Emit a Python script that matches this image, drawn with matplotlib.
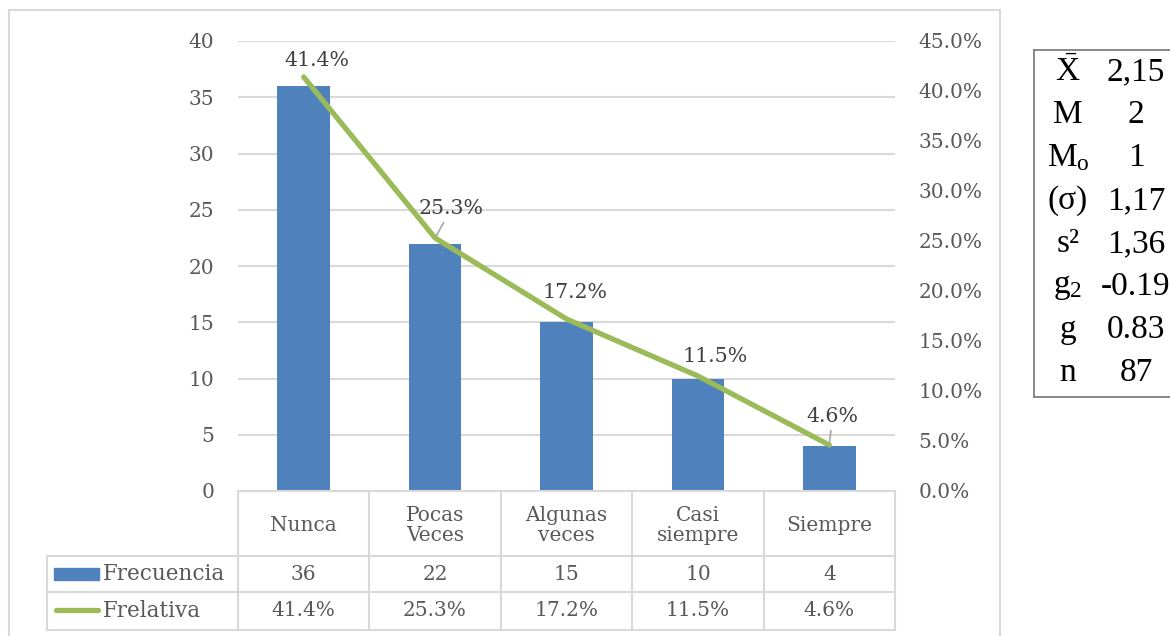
import matplotlib
matplotlib.use("Agg")
import matplotlib.pyplot as plt
from matplotlib.lines import Line2D

# datos de la tabla
categorias = ["Nunca", "Pocas\nVeces", "Algunas\nveces", "Casi\nsiempre", "Siempre"]
frecuencia = [36, 22, 15, 10, 4]
frelativa = [0.414, 0.253, 0.172, 0.115, 0.046]

# estadisticos del recuadro derecho
stat_nombres = [r"$\bar{\mathrm{X}}$", "M", r"M$_{\mathrm{o}}$", "(σ)", "s²", r"g$_{2}$", "g", "n"]
stat_valores = ["2,15", "2", "1", "1,17", "1,36", "-0.19", "0.83", "87"]

# posicion de las etiquetas de porcentaje (desplazamiento en pixeles) y lineas guia
offsets = [(13, 17), (16, 29), (8, 27), (17, 19), (3, 28)]
guias = [False, True, False, False, True]

W, H = 1170, 636
AZUL = "#4f81bd"
VERDE = "#9bbb59"
GRIS = "#595959"
LINEA = "#d9d9d9"

plt.rcParams["font.family"] = ["DejaVu Serif"]
plt.rcParams["mathtext.fontset"] = "custom"
plt.rcParams["mathtext.rm"] = "Liberation Serif"
plt.rcParams["mathtext.it"] = "Liberation Serif:italic"


def fx(x):
    return x / W


def fy(y):
    return 1 - y / H


def hline(fig, x0, x1, y, color=LINEA, lw=1.5):
    fig.add_artist(Line2D([fx(x0), fx(x1)], [fy(y), fy(y)], color=color, lw=lw,
                          transform=fig.transFigure))


def vline(fig, x, y0, y1, color=LINEA, lw=1.5):
    fig.add_artist(Line2D([fx(x), fx(x)], [fy(y0), fy(y1)], color=color, lw=lw,
                          transform=fig.transFigure))


fig = plt.figure(figsize=(W / 100, H / 100), dpi=100)

# area del grafico
left, right, top, bottom = 238, 895, 41, 491
ax = fig.add_axes([fx(left), fy(bottom), (right - left) / W, (bottom - top) / H])
x = list(range(len(categorias)))
ax.bar(x, frecuencia, width=0.4, color=AZUL, zorder=2)
ax.set_xlim(-0.5, len(categorias) - 0.5)
ax.set_ylim(0, 40)
ax.set_yticks(range(0, 41, 5))
ax.set_xticks([])
ax.yaxis.grid(True, color=LINEA, lw=1.5, zorder=0)
ax.set_axisbelow(True)
for s in ax.spines.values():
    s.set_visible(False)
ax.tick_params(axis="y", length=0, pad=17, labelsize=14.5, labelcolor=GRIS)

ax2 = ax.twinx()
ax2.plot(x, frelativa, color=VERDE, lw=3.8, solid_capstyle="round", zorder=3)
ax2.set_ylim(0, 0.45)
ax2.set_yticks([i * 0.05 for i in range(10)])
ax2.set_yticklabels(["{:.1f}%".format(v * 100) for v in ax2.get_yticks()])
for s in ax2.spines.values():
    s.set_visible(False)
ax2.tick_params(axis="y", length=0, pad=17, labelsize=14.5, labelcolor=GRIS)

for i, v in enumerate(frelativa):
    dx, dy = offsets[i]
    props = None
    if guias[i]:
        props = dict(arrowstyle="-", color="#a6a6a6", lw=1.2, shrinkA=1, shrinkB=2)
    ax2.annotate("{:.1f}%".format(v * 100), xy=(i, v), xytext=(dx * 0.72, dy * 0.72),
                 textcoords="offset points", ha="center", va="center",
                 fontsize=14.8, color="#404040", arrowprops=props)

# tabla de datos debajo del grafico
cols = [left + (right - left) * k / len(categorias) for k in range(len(categorias) + 1)]
rows = [491, 556, 592, 630]
leg_left = 47
hline(fig, left, right, rows[0])
for y in rows[1:]:
    hline(fig, leg_left, right, y)
for c in cols:
    vline(fig, c, rows[0], rows[-1])
vline(fig, leg_left, rows[1], rows[-1])

for i, cat in enumerate(categorias):
    cx = (cols[i] + cols[i + 1]) / 2
    fig.text(fx(cx), fy((rows[0] + rows[1]) / 2 + 2), cat, ha="center", va="center",
             fontsize=14.5, color=GRIS, linespacing=1.1)
    fig.text(fx(cx), fy((rows[1] + rows[2]) / 2), str(frecuencia[i]), ha="center",
             va="center", fontsize=14.5, color=GRIS)
    fig.text(fx(cx), fy((rows[2] + rows[3]) / 2), "{:.1f}%".format(frelativa[i] * 100),
             ha="center", va="center", fontsize=14.5, color=GRIS)

# claves de la leyenda en la tabla
fig.add_artist(plt.Rectangle((fx(54), fy(580)), (99 - 54) / W, 12 / H, color=AZUL,
                             transform=fig.transFigure))
fig.add_artist(Line2D([fx(56), fx(98)], [fy(610), fy(610)], color=VERDE, lw=3.8,
                      solid_capstyle="round", transform=fig.transFigure))
fig.text(fx(103), fy(574), "Frecuencia", ha="left", va="center", fontsize=15.5, color=GRIS)
fig.text(fx(103), fy(611), "Frelativa", ha="left", va="center", fontsize=15.5, color=GRIS)

# marco del grafico
vline(fig, 9, 10, 640)
hline(fig, 9, 1000, 10)
vline(fig, 1000, 10, 640)

# recuadro de estadisticos
box_col = "#7f7f7f"
hline(fig, 1034, 1175, 50, color=box_col, lw=1.3)
hline(fig, 1034, 1175, 397, color=box_col, lw=1.3)
vline(fig, 1034, 50, 397, color=box_col, lw=1.3)
for k, (nombre, valor) in enumerate(zip(stat_nombres, stat_valores)):
    y = 72 + 42.9 * k
    fig.text(fx(1068), fy(y), nombre, ha="center", va="center", fontsize=24,
             family="Liberation Serif", color="black")
    fig.text(fx(1136), fy(y), valor, ha="center", va="center", fontsize=24,
             family="Liberation Serif", color="black")

fig.savefig("out.png", dpi=100)
